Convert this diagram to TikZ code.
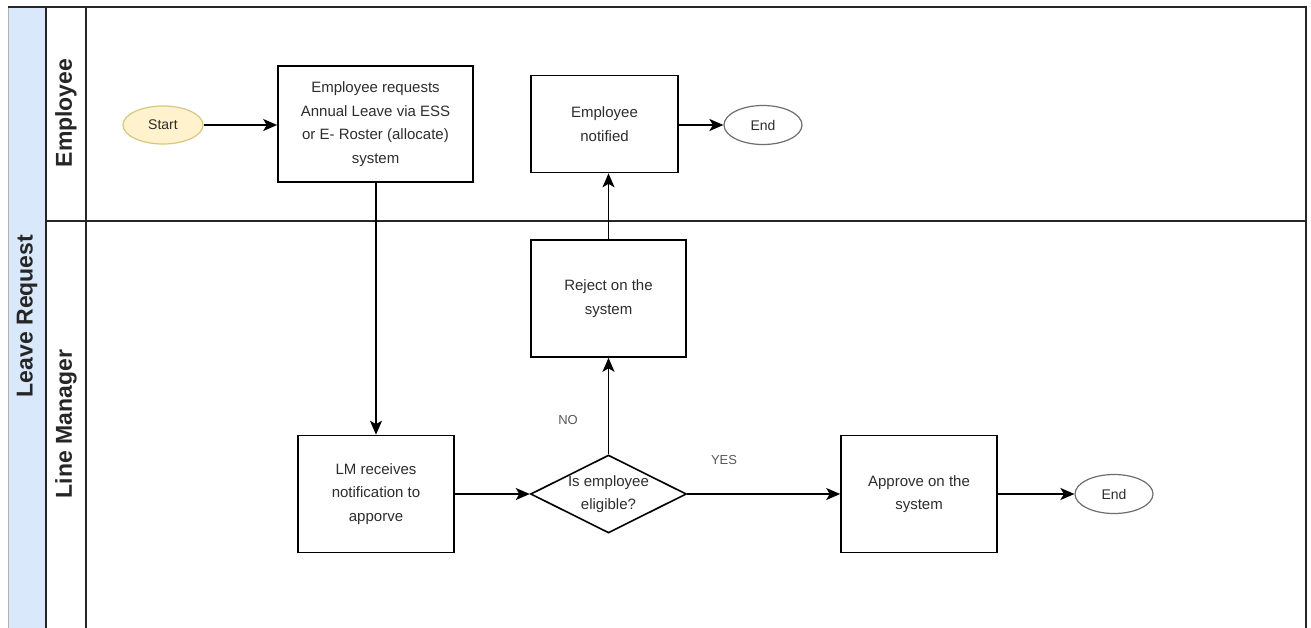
\documentclass[tikz,border=0pt]{standalone}
\usepackage{fontspec}
\setmainfont{Liberation Sans}
\usetikzlibrary{arrows.meta,shapes.geometric}
\definecolor{poolblue}{RGB}{218,232,252}
\definecolor{startfill}{RGB}{255,242,204}
\definecolor{startline}{RGB}{214,200,130}
\definecolor{endline}{RGB}{110,110,110}
\definecolor{txt}{RGB}{45,45,45}
\tikzset{
  lanelabel/.style={font=\fontsize{23}{27}\selectfont\bfseries, text=black!85, rotate=90},
  stepbox/.style={draw=black, line width=1.6pt, fill=white, align=center, text=txt,
    font=\fontsize{15}{23.5}\selectfont, inner sep=0pt},
  decide/.style={draw=black, line width=1.6pt, fill=white, diamond, aspect=2, align=center,
    text=txt, font=\fontsize{15}{23.5}\selectfont, inner sep=0pt,
    minimum width=155pt, minimum height=77pt},
  terminal/.style={ellipse, draw=endline, line width=1.2pt, fill=white, text=txt,
    font=\fontsize{14}{16}\selectfont, minimum width=78pt, minimum height=39pt, inner sep=0pt},
  flow/.style={line width=1.9pt, -{Stealth[length=14pt,width=12pt,inset=3.5pt]}},
  branch/.style={font=\fontsize{13}{15}\selectfont, text=black!65}
}
\begin{document}
\begin{tikzpicture}[x=1pt,y=-1pt]
  \useasboundingbox (0,0) rectangle (1311,627);
  \fill[white] (0,0) rectangle (1311,627);
  \begin{scope}
    \clip (0,0) rectangle (1311,627);
    % pool title bar
    \fill[poolblue] (8,7) rectangle (46,640);
    \draw[black!30, line width=1pt] (8,7) -- (8,640);
    % pool frame and lanes
    \draw[black!85, line width=1.8pt] (8,7) -- (1306,7) -- (1306,640);
    \draw[black!85, line width=1.6pt] (46,7) -- (46,640);
    \draw[black!85, line width=1.8pt] (86,7) -- (86,640);
    \draw[black!85, line width=1.8pt] (46,221) -- (1306,221);
  \end{scope}

  \node[lanelabel] (pool) at (27,316) {Leave Request};
  \node[lanelabel] (laneE) at (66,113) {Employee};
  \node[lanelabel] (laneM) at (66,424) {Line Manager};

  % employee lane
  \node[ellipse, draw=startline, line width=1.2pt, fill=startfill, text=txt,
        font=\fontsize{14}{16}\selectfont, minimum width=80pt, minimum height=38pt,
        inner sep=0pt] (start) at (163,125) {Start};
  \node[stepbox, minimum width=195pt, minimum height=116pt] (request) at (375.5,124)
    {Employee requests\\Annual Leave via ESS\\or E- Roster (allocate)\\system};
  \node[stepbox, minimum width=147pt, minimum height=97pt] (notified) at (604.5,124)
    {Employee\\notified};
  \node[terminal] (end1) at (763,125) {End};

  % line manager lane
  \node[stepbox, minimum width=155pt, minimum height=117pt] (reject) at (608.5,298.5)
    {Reject on the\\system};
  \node[stepbox, minimum width=156pt, minimum height=117pt] (receive) at (376,494)
    {LM receives\\notification to\\apporve};
  \node[decide] (eligible) at (608.5,494) {Is employee\\eligible?};
  \node[stepbox, minimum width=156pt, minimum height=117pt] (approve) at (919,494)
    {Approve on the\\system};
  \node[terminal] (end2) at (1114,494) {End};

  % connectors
  \draw[flow] (start.east) -- (start.east -| request.west);
  \draw[flow] (request.south -| receive.north) -- (receive.north);
  \draw[flow] (receive.east) -- (eligible.west);
  \draw[flow] (eligible.north) -- (reject.south);
  \draw[flow] (reject.north) -- (reject.north |- notified.south);
  \draw[flow] (notified.east |- end1.west) -- (end1.west);
  \draw[flow] (eligible.east) -- (approve.west);
  \draw[flow] (approve.east) -- (end2.west);

  \node[branch] (no) at (568,420) {NO};
  \node[branch] (yes) at (724,460) {YES};
\end{tikzpicture}
\end{document}
